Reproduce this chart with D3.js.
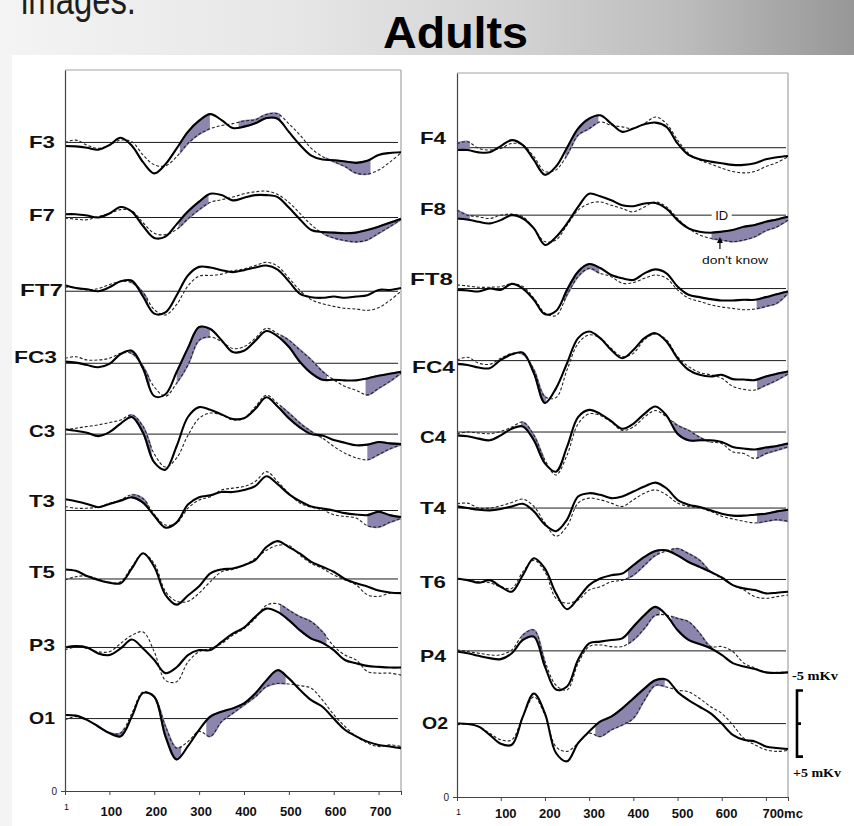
<!DOCTYPE html>
<html><head><meta charset="utf-8">
<script src="https://cdn.jsdelivr.net/npm/d3@7"></script>
<style>html,body{margin:0;padding:0;background:#fff;} svg{display:block;}</style>
</head><body>
<svg id="c" width="854" height="826"></svg>
<script>
// ---------------- DATA ----------------
const times = [1,25,50,75,100,125,150,175,200,225,250,275,300,325,350,375,400,425,450,475,500,525,550,575,600,625,650,675,700,725,750];
const tickValues = [1,100,200,300,400,500,600,700];
const leftTickLabels = ["1","100","200","300","400","500","600","700"];
const rightTickLabels = ["1","100","200","300","400","500","600","700mc"];
const leftChannels = ["F3","F7","FT7","FC3","C3","T3","T5","P3","O1"];
const rightChannels = ["F4","F8","FT8","FC4","C4","T4","T6","P4","O2"];
// vertical stacking offsets of each channel (µV above the 0 of the y axis)
const leftOffsets = [98.5,87.1,75.9,64.96,54.2,42.6,32.2,21.8,11.0];
const rightOffsets = [98.2,88.0,76.9,66.0,55.2,43.7,32.9,22.1,11.1];
const scaleBarValues = [-5, 5];
const scaleBarLabels = ["-5 mKv", "+5 mKv"];
const legendLabels = ["ID", "don't know"];

// "ID" condition (solid) and "don't know" condition (dashed), µV, negative up
const idF3 = [0.55,0.6,0.8,1.1,0.4,-0.7,0.5,3.0,4.7,3.3,0.9,-1.6,-3.3,-4.3,-3.4,-2.2,-2.4,-2.9,-3.7,-3.6,-1.6,0.4,2.0,2.6,2.7,2.9,3.1,2.8,1.9,1.6,1.5];
const dkF3 = [0,-0.35,0.4,0.9,0.4,-0.35,-0.1,1.9,3.4,3.55,2.15,0.15,-1.25,-2.1,-2.55,-2.85,-3.25,-3.45,-4.25,-4.35,-2.85,-1.1,0.9,2.15,2.9,3.65,4.65,4.8,4.2,3.0,1.6];
const idF7 = [-0.5,-0.5,-0.3,0.0,-0.6,-1.6,-0.9,1.3,3.1,2.9,1.0,-0.9,-2.4,-3.6,-3.4,-2.6,-3.0,-3.4,-3.4,-3.1,-1.5,0.3,1.9,2.2,2.3,2.4,2.3,1.9,1.4,0.8,0.2];
const dkF7 = [0.1,0.25,0.35,-0.15,-0.6,-1.2,-1.0,0.8,2.4,2.6,1.8,0.2,-1.2,-2.3,-2.7,-3.1,-3.6,-3.9,-4.0,-3.5,-2.3,-0.6,1.1,2.4,3.1,3.5,3.7,3.4,2.4,1.4,0.3];
const idFT7 = [-0.9,-0.5,-0.3,0.0,-0.6,-1.5,-1.6,0.8,3.4,3.2,0.6,-2.4,-3.7,-3.6,-3.2,-2.9,-3.2,-3.6,-3.9,-3.3,-1.5,0.4,0.9,1.0,0.8,1.0,0.8,0.6,-0.2,-0.2,-0.5];
const dkFT7 = [-0.65,-0.5,-0.2,-0.4,-1.0,-1.5,-1.3,0.2,2.8,3.6,2.0,-0.8,-2.3,-2.4,-2.6,-3.1,-3.4,-3.9,-4.4,-3.8,-2.0,-0.1,1.3,1.9,2.3,2.6,2.7,2.9,2.5,1.4,0.0];
const idFC3 = [-0.25,-0.1,0.25,0.6,0.1,-1.4,-1.9,0.8,5.0,4.7,1.3,-2.3,-5.5,-5.2,-3.5,-1.7,-1.9,-3.4,-4.9,-4.1,-2.5,-0.2,1.5,2.5,2.5,2.6,2.6,2.3,1.9,1.6,1.3];
const dkFC3 = [-0.75,-1.0,-0.5,-0.5,-0.75,-1.5,-1.5,0.5,3.6,5.0,3.0,0.25,-3.5,-4.0,-3.3,-2.25,-2.5,-3.8,-5.3,-4.5,-3.5,-2.0,-0.5,1.25,2.5,3.5,4.1,4.8,3.8,2.75,1.5];
const idC3 = [-0.75,-0.5,-0.2,0.3,-0.3,-1.6,-2.6,-0.2,4.3,5.4,1.8,-2.6,-4.1,-3.7,-3.0,-2.3,-2.4,-3.8,-5.6,-4.2,-2.4,-1.0,0.0,0.2,0.9,1.3,1.7,1.6,1.2,1.4,1.5];
const dkC3 = [-0.65,-0.9,-1.15,-1.4,-1.75,-2.15,-2.9,-1.15,3.0,5.0,3.6,0.2,-2.4,-3.2,-2.9,-2.15,-2.4,-4.15,-5.9,-4.65,-3.2,-1.65,-0.4,0.6,1.85,2.9,3.6,3.9,3.1,2.25,1.6];
const idT3 = [-1.7,-1.4,-1.0,-0.5,-1.0,-1.5,-2.0,-1.2,0.8,2.6,1.8,-0.9,-2.0,-2.3,-2.8,-2.8,-3.1,-3.7,-5.2,-4.0,-2.5,-1.4,-0.6,-0.3,0.0,0.4,0.6,0.7,0.2,0.7,1.0];
const dkT3 = [-0.6,-0.35,-0.35,-0.5,-1.1,-1.6,-2.4,-1.8,0.6,2.2,1.9,-0.35,-1.6,-2.1,-3.1,-3.4,-3.65,-4.4,-5.9,-4.4,-2.6,-1.1,-0.5,-0.1,0.65,0.9,1.15,2.3,2.5,1.8,1.2];
const idT5 = [-1.45,-1.25,-0.45,0.15,0.55,0.65,-1.6,-3.9,-1.85,2.4,3.9,2.5,1.1,-0.85,-1.45,-1.6,-2.1,-2.85,-4.85,-5.75,-4.85,-3.85,-2.6,-1.85,-1.1,0.0,0.65,1.15,1.75,2.05,2.15];
const dkT5 = [0.15,-0.35,-0.45,0.0,0.55,0.4,-1.85,-3.85,-2.35,1.9,3.4,3.4,2.15,0.4,-1.1,-1.45,-2.1,-3.1,-4.35,-5.1,-5.1,-3.6,-2.35,-1.6,-0.6,0.15,0.9,2.4,2.65,2.15,2.05];
const idP3 = [0,-0.2,0,0.9,1.15,0.15,-1.2,0.15,1.9,3.9,3.0,1.15,0.4,0.4,-0.85,-2.1,-3.0,-4.65,-5.9,-5.4,-4.15,-2.6,-1.35,-0.7,0.4,1.9,2.4,2.8,2.95,3.05,3.05];
const dkP3 = [0.4,-0.1,0.15,0.65,0.65,-0.6,-1.85,-2.35,0.65,5.0,5.2,2.2,0.65,0.15,-0.6,-1.85,-2.85,-4.4,-6.4,-6.65,-5.65,-4.65,-3.9,-2.35,-0.2,1.15,1.9,3.65,3.9,3.9,4.2];
const idO1 = [-0.55,-0.45,0.2,1.2,2.2,2.7,-0.3,-3.9,-3.3,2.7,6.2,4.2,1.7,-0.3,-1.05,-1.55,-2.3,-3.8,-5.8,-7.35,-6.1,-4.35,-2.8,-1.8,0,1.7,2.7,3.5,4.0,4.25,4.5];
const dkO1 = [0.2,-0.3,0.2,1.2,2.2,2.2,-0.8,-4.05,-3.3,1.2,4.5,3.5,1.95,2.7,0.45,-0.8,-2.05,-3.3,-4.85,-5.35,-5.25,-5.0,-4.6,-2.8,-0.6,1.2,2.7,3.7,4.25,4.0,4.25];

const idF4 = [0.35,0.35,0.7,0.7,-0.25,-1.15,-0.4,1.85,4.1,2.85,0,-2.9,-4.4,-4.9,-3.65,-2.4,-2.9,-3.55,-3.8,-3.15,-0.65,1.1,1.75,2.1,2.35,2.6,2.6,2.35,1.75,1.45,1.25];
const dkF4 = [-0.65,-0.9,0.1,0.35,0.1,-0.65,-0.4,1.35,3.6,3.35,1.1,-1.9,-2.9,-3.9,-3.4,-3.15,-2.9,-3.65,-4.65,-3.65,-1.15,0.85,1.85,2.45,3.1,3.6,3.8,3.6,2.85,2.25,1.35];
const idF8 = [0.5,0.65,1.0,1.25,0.75,0,0.5,2.0,4.5,3.3,1.25,-1.25,-3.25,-2.85,-2.25,-1.5,-1.35,-1.75,-1.85,-1.0,0.75,2.0,2.5,2.65,2.5,2.25,1.75,1.5,1.0,0.65,0.25];
const dkF8 = [-0.75,0,0.25,0.5,0,-0.15,0.25,2.0,4.0,3.75,1.5,-0.75,-1.75,-2.0,-1.5,-1.0,-0.5,-1.25,-2.0,-1.25,0.5,2.0,3.0,3.5,3.75,4.0,3.75,3.25,2.35,1.75,0.75];
const idFT8 = [0.2,0.3,0.45,0,0.2,-0.7,0,1.7,3.9,3.4,0.2,-2.55,-3.7,-3.1,-2.05,-1.55,-1.3,-2.3,-2.9,-2.3,-0.3,0.95,1.3,1.6,1.8,1.8,1.7,1.7,1.3,0.85,0.45];
const dkFT8 = [-0.55,-0.4,-0.2,-0.2,-0.3,-0.7,-0.3,1.45,3.7,4.1,0.95,-1.8,-3.05,-2.3,-1.8,-0.8,-0.9,-1.55,-2.05,-1.55,0.2,1.45,1.95,2.45,2.8,3.0,3.2,3.1,2.7,2.2,0.7];
const idFC4 = [0.5,0.65,1.05,1.15,-0.1,-0.95,-1.2,1.9,6.4,4.2,0.4,-3.4,-4.4,-3.4,-1.6,-0.35,-1.6,-3.4,-4.15,-2.9,-0.35,1.4,2.15,2.4,2.15,2.8,2.85,2.95,2.4,2.0,1.65];
const dkFC4 = [-0.1,-0.5,0.4,0.55,-0.35,-1.1,-1.0,1.4,5.45,5.6,1.4,-2.6,-3.9,-3.4,-1.85,-0.6,-1.1,-3.15,-4.05,-3.15,-0.6,0.9,1.8,2.15,2.65,3.9,4.35,4.45,3.7,2.95,2.0];
const idC4 = [0.5,0.65,1.0,1.25,0.5,-0.5,-0.85,1.25,4.75,6.0,2.25,-2.25,-3.35,-2.75,-1.65,-0.5,-1.25,-2.75,-3.85,-2.5,0.25,1.25,1.25,1.25,1.5,2.25,2.5,2.65,2.35,2.1,1.75];
const dkC4 = [0.25,0,0.15,0.25,-0.1,-0.75,-1.5,0.5,4.25,6.5,3.5,-1.25,-2.75,-2.5,-1.5,-0.25,-0.75,-2.25,-3.25,-2.3,-1.0,-0.25,0.8,1.5,1.75,3.0,3.25,4.0,3.25,2.75,2.25];
const idT4 = [-0.25,0,0.25,0.35,0.15,-0.25,-0.65,0.5,2.5,3.5,1.75,-1.75,-2.25,-2.0,-1.5,-1.75,-2.5,-3.25,-3.85,-3.0,-1.25,-0.5,-0.15,0.35,0.85,1.15,1.15,1.0,0.85,0.5,0.25];
const dkT4 = [-0.65,-0.75,0,0,-0.35,-0.85,-1.35,-0.25,2.25,4.25,2.75,-0.75,-1.5,-1.25,-0.75,-0.25,-1.25,-2.25,-2.75,-2.0,-0.75,-0.25,0,0.5,1.25,1.65,2.0,2.25,2.0,1.75,2.0];
const idT6 = [-0.15,0.1,0.5,0.1,1.1,1.85,-0.65,-3.2,-1.65,2.1,4.5,2.85,0.85,-0.15,-0.65,-0.9,-2.15,-3.4,-4.3,-4.4,-3.65,-2.65,-1.9,-1.15,-0.3,0.85,1.35,1.6,2.1,2.0,1.85];
const dkT6 = [-0.15,0.1,0.35,0.5,1.1,1.35,-1.15,-2.9,-1.15,2.85,3.6,3.1,1.6,1.1,0.35,0.1,-0.65,-2.15,-3.65,-4.3,-4.65,-3.9,-2.9,-1.15,-0.15,0.85,1.6,2.6,2.85,2.6,2.35];
const idP4 = [0.1,0.35,0.75,1.1,1.25,0.35,-1.65,-2.15,2.35,5.85,5.4,1.35,-1.15,-1.4,-1.65,-1.9,-3.65,-5.4,-6.65,-5.4,-3.15,-1.65,-1.05,-0.4,0.6,1.85,2.35,2.75,3.25,3.35,3.25];
const dkP4 = [-0.15,0.1,0.35,0.6,0.6,-0.15,-2.4,-3.15,1.6,5.2,5.9,1.9,-0.65,-0.9,-0.65,-0.65,-1.65,-3.4,-5.4,-5.4,-4.9,-4.4,-2.65,-0.65,-0.65,0.1,1.85,2.6,3.25,3.25,3.25];
const idO2 = [0,0.05,0.45,1.7,3.05,3.2,-1.05,-4.55,-1.55,4.45,5.7,2.95,1.2,-0.3,-1.05,-2.3,-3.8,-5.3,-6.55,-6.65,-4.8,-3.55,-2.55,-1.55,0,1.7,2.45,2.7,3.45,3.7,3.85];
const dkO2 = [0.2,0,0.45,1.45,2.45,2.45,-1.05,-4.05,-1.3,3.5,4.2,2.95,1.45,1.95,0.95,0.2,-0.8,-3.55,-5.8,-5.55,-5.05,-4.8,-3.8,-2.55,-1.55,0.2,2.2,3.2,3.95,4.2,4.05];

// time windows (ms) of significant difference (shaded)
const shF3 = [[257,324],[388,481],[582,682]];
const shF7 = [[254,321],[578,750]];
const shFT7 = [[145,186]];
const shFC3 = [[145,190],[250,324],[481,585],[671,750]];
const shC3 = [[142,194],[481,574],[675,750]];
const shT3 = [[149,186],[675,750]];
const shT5 = [];
const shP3 = [[480,584]];
const shO1 = [[69,133],[192,260],[316,493]];
const shF4 = [[1,30],[246,321]];
const shF8 = [[1,30],[577,750]];
const shFT8 = [[244,323],[679,750]];
const shFC4 = [[142,203],[680,750]];
const shC4 = [[146,199],[490,573],[680,750]];
const shT4 = [[680,750]];
const shT6 = [[388,460],[486,580]];
const shP4 = [[146,201],[388,460],[486,579]];
const shO2 = [[314,471]];

// ---------------- LAYOUT ----------------
const W = 854, H = 826;
const yMax = 109.5;
const shadeColor = "#8c86ae";
const sans = "'Liberation Sans', Arial, Helvetica, sans-serif";
const curve = d3.curveCatmullRom.alpha(0.5);
// label nudges [dx, dy] in px (layout only)
const leftLabelNudge = [[0,0],[0,-2],[8,-1],[2,-6],[0,-3],[0,-9],[0,-6],[0,-2],[0,0]];
const rightLabelNudge = [[0,-9],[0,-6],[7,-9],[9,7],[0,5],[0,0],[0,3],[0,6],[2,0]];

const panels = [
  {names:leftChannels, offsets:leftOffsets,
   id:[idF3,idF7,idFT7,idFC3,idC3,idT3,idT5,idP3,idO1],
   dk:[dkF3,dkF7,dkFT7,dkFC3,dkC3,dkT3,dkT5,dkP3,dkO1],
   sh:[shF3,shF7,shFT7,shFC3,shC3,shT3,shT5,shP3,shO1],
   x0:65, x1:401, zeroY:791, topY:70, lineEnd:398, labelX:55, nudge:leftLabelNudge,
   tickLabels:leftTickLabels, tickPad:12, tickDx:1.5},
  {names:rightChannels, offsets:rightOffsets,
   id:[idF4,idF8,idFT8,idFC4,idC4,idT4,idT6,idP4,idO2],
   dk:[dkF4,dkF8,dkFT8,dkFC4,dkC4,dkT4,dkT6,dkP4,dkO2],
   sh:[shF4,shF8,shFT8,shFC4,shC4,shT4,shT6,shP4,shO2],
   x0:457, x1:788, zeroY:797, topY:73, lineEnd:786, labelX:446, nudge:rightLabelNudge,
   tickLabels:rightTickLabels, tickPad:8, tickDx:4.5}
];

const svg = d3.select("#c");
const defs = svg.append("defs");
const grad = defs.append("linearGradient").attr("id","bg").attr("x1",0).attr("x2",1).attr("y1",0).attr("y2",0);
[["0%","#f4f4f4"],["35%","#e6e6e6"],["60%","#d3d3d3"],["80%","#bcbcbc"],["100%","#979797"]]
  .forEach(([o,c]) => grad.append("stop").attr("offset",o).attr("stop-color",c));
svg.append("rect").attr("width",W).attr("height",H).attr("fill","url(#bg)");
svg.append("rect").attr("x",12).attr("y",55).attr("width",W-12).attr("height",H-55).attr("fill","#fff");

svg.append("text").attr("x",21).attr("y",14).attr("font-family",sans)
  .attr("font-size",40).attr("fill","#1e1e1e").attr("textLength",115).attr("lengthAdjust","spacingAndGlyphs").text("images.");
svg.append("text").attr("x",383).attr("y",48).attr("font-family",sans)
  .attr("font-size",44).attr("font-weight","bold").attr("fill","#000").attr("textLength",145).attr("lengthAdjust","spacingAndGlyphs").text("Adults");

const scales = [];
panels.forEach((p, pi) => {
  const x = d3.scaleLinear().domain([1,750]).range([p.x0, p.x1]);
  const y = d3.scaleLinear().domain([0,yMax]).range([p.zeroY, p.topY]);
  scales.push({x, y});
  const g = svg.append("g");
  // frame (top & right)
  g.append("line").attr("x1",p.x0).attr("x2",p.x1).attr("y1",p.topY).attr("y2",p.topY).attr("stroke","#a3a3a3").attr("stroke-width",1.2);
  g.append("line").attr("x1",p.x1).attr("x2",p.x1).attr("y1",p.topY).attr("y2",p.zeroY).attr("stroke","#a3a3a3").attr("stroke-width",1.2);

  p.names.forEach((name, i) => {
    const off = p.offsets[i];
    const yv = v => y(off - v);
    g.append("line").attr("x1",p.x0).attr("x2",p.lineEnd).attr("y1",y(off)).attr("y2",y(off))
      .attr("stroke","#1c1c1c").attr("stroke-width",1);
    const clipId = "clip-" + name;
    const cp = defs.append("clipPath").attr("id", clipId);
    p.sh[i].forEach(([a,b]) => cp.append("rect").attr("x",x(a)).attr("width",x(b)-x(a))
      .attr("y",y(off+12)).attr("height",y(off-12)-y(off+12)));
    const ids = p.id[i], dks = p.dk[i];
    if (p.sh[i].length) {
      const area = d3.area().x((d,j)=>x(times[j])).y0((d,j)=>yv(ids[j])).y1((d,j)=>yv(dks[j])).curve(curve);
      g.append("path").datum(times).attr("d",area).attr("fill",shadeColor).attr("stroke",shadeColor)
        .attr("stroke-width",2).attr("clip-path",`url(#${clipId})`);
    }
    const line = d3.line().x((d,j)=>x(times[j])).y(d=>yv(d)).curve(curve);
    g.append("path").datum(dks).attr("d",line).attr("fill","none").attr("stroke","#222")
      .attr("stroke-width",1.1).attr("stroke-dasharray","3,2");
    g.append("path").datum(ids).attr("d",line).attr("fill","none").attr("stroke","#000")
      .attr("stroke-width",2.1).attr("stroke-linejoin","round");
    const [ndx, ndy] = p.nudge[i];
    g.append("text").attr("x",p.labelX + ndx).attr("y",y(off) + ndy)
      .attr("text-anchor","end").attr("dominant-baseline","central")
      .attr("font-family",sans).attr("font-weight","bold").attr("font-size",17).attr("fill","#111")
      .attr("textLength", name.length === 2 ? 26 : 43).attr("lengthAdjust","spacingAndGlyphs").text(name);
  });

  // x axis
  const xAxis = d3.axisBottom(x).tickValues(tickValues.concat([750])).tickSize(4).tickSizeOuter(0)
    .tickPadding(p.tickPad).tickFormat((d,i)=> p.tickLabels[i] !== undefined ? p.tickLabels[i] : "");
  const ga = g.append("g").attr("transform",`translate(0,${p.zeroY})`).call(xAxis);
  ga.select(".domain").attr("stroke","#444").attr("stroke-width",1.2);
  ga.selectAll(".tick line").attr("stroke","#444");
  ga.selectAll(".tick text").attr("font-family",sans).attr("font-size",13).attr("font-weight","bold")
    .attr("fill","#111").attr("x",p.tickDx);
  ga.selectAll(".tick text").filter(d=>d===1).attr("font-size",9).attr("font-weight","normal")
    .attr("y", 13 - pi).attr("x",1);
  ga.selectAll(".tick text").filter((d,i,n)=>n[i].textContent==="700mc")
    .attr("text-anchor","start").attr("x",-4);
  // y axis
  const yAxis = d3.axisLeft(y).tickValues([0]).tickSize(4).tickSizeOuter(0).tickPadding(4).tickFormat(d3.format("d"));
  const gy = g.append("g").attr("transform",`translate(${p.x0},0)`).call(yAxis);
  gy.select(".domain").attr("stroke","#444").attr("stroke-width",1.2);
  gy.selectAll(".tick line").attr("stroke","#444");
  gy.selectAll(".tick text").attr("font-family",sans).attr("font-size",10).attr("fill","#222");
});

// scale bar (anchored at O2 baseline in right panel)
const yR = scales[1].y, xR = scales[1].x;
const offO2 = rightOffsets[8];
const sbTop = yR(offO2 - scaleBarValues[0]), sbBot = yR(offO2 - scaleBarValues[1]);
const sbX = 797;
svg.append("path").attr("d",`M${sbX+6},${sbTop}H${sbX}V${sbBot}H${sbX+6}M${sbX},${(sbTop+sbBot)/2}H${sbX+4}`)
  .attr("fill","none").attr("stroke","#000").attr("stroke-width",2.6);
svg.append("text").attr("x",792).attr("y",sbTop-11).attr("font-family","'Liberation Serif', 'Times New Roman', serif")
  .attr("font-weight","bold").attr("font-size",12).attr("textLength",46).attr("lengthAdjust","spacingAndGlyphs").text(scaleBarLabels[0]);
svg.append("text").attr("x",793).attr("y",sbBot+20).attr("font-family","'Liberation Serif', 'Times New Roman', serif")
  .attr("font-weight","bold").attr("font-size",12).attr("textLength",48).attr("lengthAdjust","spacingAndGlyphs").text(scaleBarLabels[1]);

// annotation on F8
const offF8 = rightOffsets[1];
const idX = xR(600), idY = yR(offF8);
svg.append("rect").attr("x",idX-10).attr("y",idY-8).attr("width",20).attr("height",16).attr("fill","#fff");
svg.append("text").attr("x",idX).attr("y",idY).attr("text-anchor","middle").attr("dominant-baseline","central")
  .attr("font-family",sans).attr("font-size",13).attr("fill","#111").text(legendLabels[0]);
const arX = xR(596);
const arTop = yR(offF8 - 3.3), arBot = yR(offF8 - 5.1);
svg.append("line").attr("x1",arX).attr("x2",arX).attr("y1",arTop+4).attr("y2",arBot).attr("stroke","#000").attr("stroke-width",1.2);
svg.append("path").attr("d",`M${arX},${arTop}L${arX-3},${arTop+6}L${arX+3},${arTop+6}Z`).attr("fill","#000");
svg.append("text").attr("x",xR(630)).attr("y",yR(offF8 - 7.4)).attr("text-anchor","middle")
  .attr("font-family",sans).attr("font-size",11).attr("fill","#111")
  .attr("textLength",66).attr("lengthAdjust","spacingAndGlyphs").text(legendLabels[1]);
</script>
</body></html>
